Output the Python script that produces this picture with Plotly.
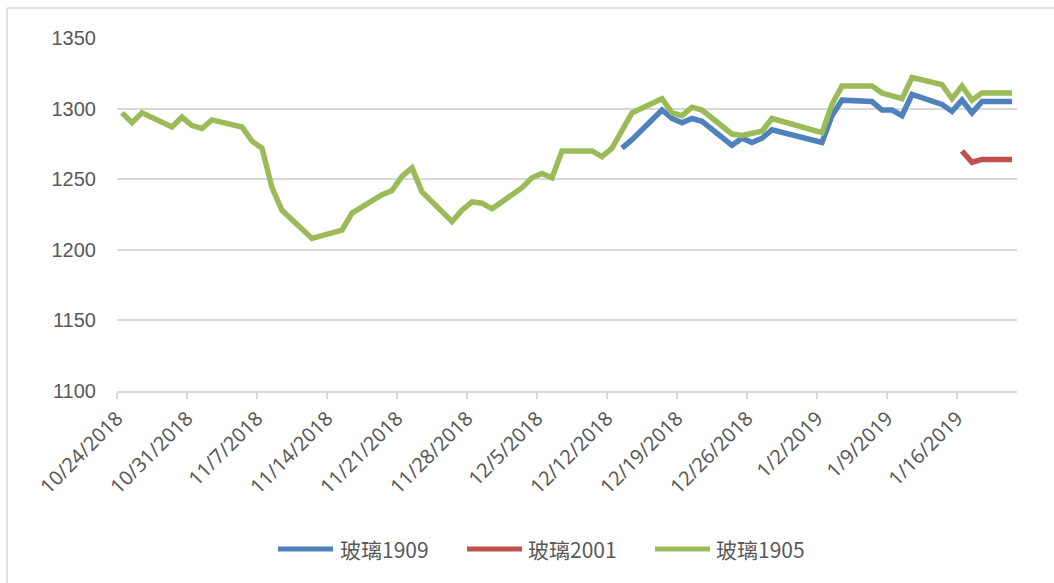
import pandas as pd
import plotly.graph_objects as go

# ---------------- data ----------------
dates_1905 = [
    "2018-10-24", "2018-10-25", "2018-10-26", "2018-10-29", "2018-10-30", "2018-10-31",
    "2018-11-01", "2018-11-02", "2018-11-05", "2018-11-06", "2018-11-07", "2018-11-08",
    "2018-11-09", "2018-11-12", "2018-11-13", "2018-11-14", "2018-11-15", "2018-11-16",
    "2018-11-19", "2018-11-20", "2018-11-21", "2018-11-22", "2018-11-23", "2018-11-26",
    "2018-11-27", "2018-11-28", "2018-11-29", "2018-11-30", "2018-12-03", "2018-12-04",
    "2018-12-05", "2018-12-06", "2018-12-07", "2018-12-10", "2018-12-11", "2018-12-12",
    "2018-12-13", "2018-12-14", "2018-12-17", "2018-12-18", "2018-12-19", "2018-12-20",
    "2018-12-21", "2018-12-24", "2018-12-25", "2018-12-26", "2018-12-27", "2018-12-28",
    "2019-01-02", "2019-01-03", "2019-01-04", "2019-01-07", "2019-01-08", "2019-01-09",
    "2019-01-10", "2019-01-11", "2019-01-14", "2019-01-15", "2019-01-16", "2019-01-17",
    "2019-01-18", "2019-01-21",
]
glass_1905 = [
    1297, 1290, 1297, 1287, 1294, 1288,
    1286, 1292, 1287, 1277, 1272, 1244,
    1228, 1208, 1210, 1212, 1214, 1226,
    1239, 1242, 1252, 1258, 1241, 1220,
    1228, 1234, 1233, 1229, 1244, 1251,
    1254, 1251, 1270, 1270, 1266, 1272,
    1284, 1297, 1307, 1297, 1295, 1301,
    1299, 1282, 1281, 1283, 1284, 1293,
    1283, 1303, 1316, 1316, 1311, 1309,
    1307, 1322, 1317, 1307, 1316, 1306,
    1311, 1311,
]

dates_1909 = [
    "2018-12-13", "2018-12-14", "2018-12-17", "2018-12-18", "2018-12-19", "2018-12-20",
    "2018-12-21", "2018-12-24", "2018-12-25", "2018-12-26", "2018-12-27", "2018-12-28",
    "2019-01-02", "2019-01-03", "2019-01-04", "2019-01-07", "2019-01-08", "2019-01-09",
    "2019-01-10", "2019-01-11", "2019-01-14", "2019-01-15", "2019-01-16", "2019-01-17",
    "2019-01-18", "2019-01-21",
]
glass_1909 = [
    1272, 1278, 1299, 1293, 1290, 1293,
    1291, 1274, 1279, 1276, 1279, 1285,
    1276, 1295, 1306, 1305, 1299, 1299,
    1295, 1310, 1303, 1298, 1306, 1297,
    1305, 1305,
]

dates_2001 = ["2019-01-16", "2019-01-17", "2019-01-18", "2019-01-21"]
glass_2001 = [1270, 1262, 1264, 1264]

series_names = ["玻璃1909", "玻璃2001", "玻璃1905"]
series_colors = ["#4F81BD", "#C0504D", "#9BBB59"]

tick_dates = ["2018-10-24", "2018-10-31", "2018-11-07", "2018-11-14", "2018-11-21",
              "2018-11-28", "2018-12-05", "2018-12-12", "2018-12-19", "2018-12-26",
              "2019-01-02", "2019-01-09", "2019-01-16"]
tick_labels = ["10/24/2018", "10/31/2018", "11/7/2018", "11/14/2018", "11/21/2018",
               "11/28/2018", "12/5/2018", "12/12/2018", "12/19/2018", "12/26/2018",
               "1/2/2019", "1/9/2019", "1/16/2019"]
y_ticks = [1100, 1150, 1200, 1250, 1300, 1350]

# ---------------- layout geometry (pixels) ----------------
W, H = 1054, 583
ML, MR, MT, MB = 117, 37, 38, 192
PW, PH = W - ML - MR, H - MT - MB


def px_x(x):
    return (x - ML) / PW


def px_y(y):
    return (H - MB - y) / PH


def mid_day(ds):
    # Excel date axis: points sit in the middle of each day slot
    return pd.to_datetime(ds) + pd.Timedelta(hours=12)


fig = go.Figure()
for name, color, ds, vals in [
    (series_names[0], series_colors[0], dates_1909, glass_1909),
    (series_names[1], series_colors[1], dates_2001, glass_2001),
    (series_names[2], series_colors[2], dates_1905, glass_1905),
]:
    fig.add_trace(go.Scatter(
        x=mid_day(ds), y=vals, mode="lines", name=name,
        line=dict(color=color, width=5.5, shape="linear"),
        showlegend=False, hoverinfo="x+y+name",
    ))

# custom legend (longer line samples like the original)
legend_items = [(278, 333, 338), (467, 522, 526), (655, 710, 714)]
shapes = []
annotations = []
leg_y = 549
for (x0, x1, xt), name, color in zip(legend_items, series_names, series_colors):
    shapes.append(dict(type="line", xref="paper", yref="paper",
                       x0=px_x(x0), x1=px_x(x1), y0=px_y(leg_y), y1=px_y(leg_y),
                       line=dict(color=color, width=5)))
    annotations.append(dict(xref="paper", yref="paper", x=px_x(xt), y=px_y(leg_y),
                            text=name, showarrow=False, xanchor="left", yanchor="middle",
                            font=dict(family="Noto Sans CJK SC", size=21, color="#595959")))

# chart-area frame (left and top edges visible)
shapes.append(dict(type="line", xref="paper", yref="paper",
                   x0=px_x(7), x1=px_x(7), y0=px_y(8), y1=px_y(600),
                   line=dict(color="#D9D9D9", width=1.5)))
shapes.append(dict(type="line", xref="paper", yref="paper",
                   x0=px_x(7), x1=px_x(1100), y0=px_y(8), y1=px_y(8),
                   line=dict(color="#D9D9D9", width=1.5)))

fig.update_layout(
    width=W, height=H,
    margin=dict(l=ML, r=MR, t=MT, b=MB, pad=0),
    paper_bgcolor="white", plot_bgcolor="white",
    shapes=shapes, annotations=annotations,
    showlegend=False,
    xaxis=dict(
        type="date",
        range=[pd.Timestamp("2018-10-24"), pd.Timestamp("2019-01-22")],
        tickvals=pd.to_datetime(tick_dates), ticktext=tick_labels,
        tickangle=-45,
        tickfont=dict(family="Noto Sans", size=20, color="#595959"),
        showgrid=False, zeroline=False,
        showline=True, linecolor="#D9D9D9", linewidth=1.5,
        ticks="outside", ticklen=6, tickcolor="#D9D9D9", tickwidth=1.5,
    ),
    yaxis=dict(
        range=[1100, 1350],
        tickvals=y_ticks,
        tickfont=dict(family="Liberation Sans", size=20, color="#595959"),
        showgrid=True, gridcolor="#D9D9D9", gridwidth=1.5,
        zeroline=False, showline=False, ticks="", ticklabelstandoff=20,
    ),
)

fig.write_html("out.html", config={"displayModeBar": False},
               post_script="document.body.style.margin='0';")
